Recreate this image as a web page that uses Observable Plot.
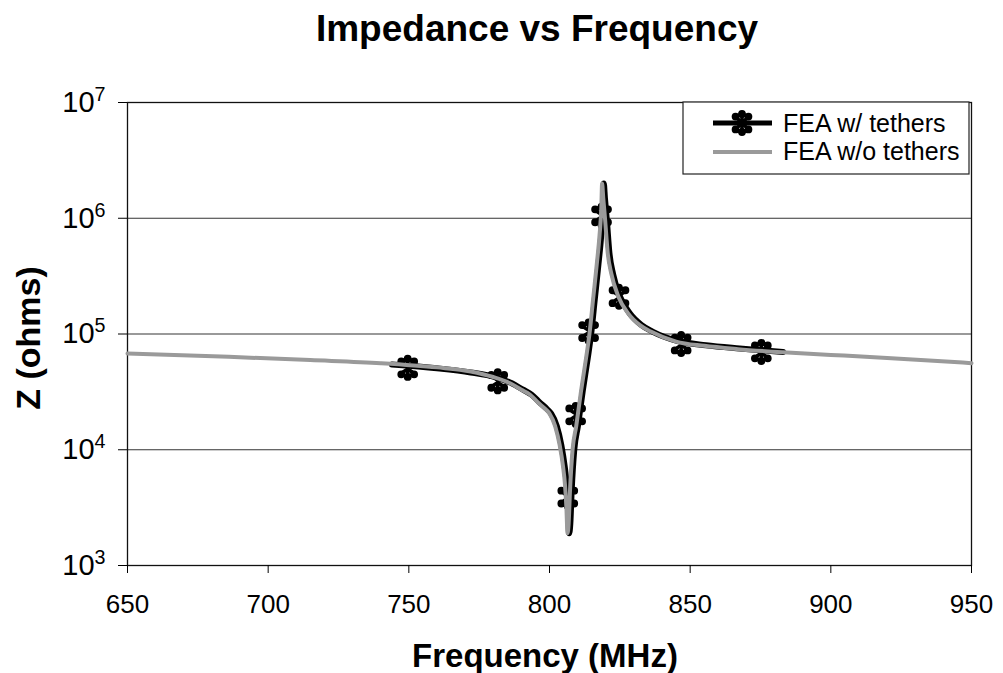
<!DOCTYPE html>
<html><head><meta charset="utf-8">
<script src="https://cdn.jsdelivr.net/npm/d3@7"></script>
<script src="https://cdn.jsdelivr.net/npm/@observablehq/plot@0.6"></script>
<style>
body{margin:0;background:#fff;}
svg{font-family:"Liberation Sans",Arial,Helvetica,sans-serif;}
</style>
</head><body><div id="chart"></div>
<script>
// ---- data ----
const seriesNames = ["FEA w/ tethers", "FEA w/o tethers"];
const xTicks = [650, 700, 750, 800, 850, 900, 950];
const yTicks = [1e3, 1e4, 1e5, 1e6, 1e7];

// FEA w/o tethers (grey line)
const freqWithout = [650, 686, 715, 740, 760, 772, 780, 786, 790, 793,
  796, 798.5, 800, 802, 803.6, 804.8, 805.5, 806, 806.4, 806.8,
  807.3, 808.2, 809.5, 811.2, 813, 814.2, 815.5, 816.8, 817.8, 818.4,
  818.7, 819.1, 819.8, 820.7, 822, 824.5, 828, 832, 836, 845,
  855, 867, 883, 900, 920, 950];
const zWithout = [6.8e4, 6.35e4, 5.95e4, 5.6e4, 5.15e4, 4.75e4, 4.25e4, 3.75e4, 3.3e4, 3.0e4,
  2.55e4, 2.25e4, 2.05e4, 1.6e4, 1.1e4, 7.2e3, 5.0e3, 3.2e3, 1.9e3, 2.3e3,
  4.5e3, 1.0e4, 1.6e4, 3.2e4, 6.2e4, 1.0e5, 2.0e5, 4.0e5, 7.2e5, 1.2e6,
  2.0e6, 1.5e6, 9.5e5, 5.0e5, 3.3e5, 2.1e5, 1.5e5, 1.2e5, 1.05e5, 8.6e4,
  7.9e4, 7.4e4, 6.95e4, 6.6e4, 6.2e4, 5.6e4];

// FEA w/ tethers (black line)
const freqWith = [744, 760, 772, 780.6, 786.6, 790.6, 793.6, 796.6, 799.1, 800.6,
  802.6, 804.2, 805.4, 806.1, 806.6, 807.0, 807.4, 807.9, 808.8, 810.1,
  811.8, 813.6, 814.8, 816.1, 817.4, 818.4, 819.0, 819.3, 819.7, 820.4,
  821.3, 822.6, 825.1, 828.6, 832.6, 836.6, 845.6, 855.6, 867.6, 883];
const zWith = [5.45e4, 5.05e4, 4.65e4, 4.25e4, 3.75e4, 3.3e4, 3.0e4, 2.55e4, 2.25e4, 2.05e4,
  1.6e4, 1.1e4, 7.2e3, 5.0e3, 3.2e3, 1.9e3, 2.3e3, 4.5e3, 1.0e4, 1.6e4,
  3.2e4, 6.2e4, 1.0e5, 2.0e5, 4.0e5, 7.2e5, 1.2e6, 2.0e6, 1.5e6, 9.5e5,
  5.0e5, 3.3e5, 2.1e5, 1.5e5, 1.2e5, 1.05e5, 8.7e4, 8.0e4, 7.5e4, 7.0e4];

// star markers on the "w/ tethers" series
const markerFreq = [749.6, 781.6, 806.5, 809.3, 813.9, 818.5, 824.7, 846.8, 875.3];
const markerZ = [5.1e4, 3.9e4, 3.9e3, 2.0e4, 1.05e5, 1.05e6, 2.1e5, 8.2e4, 7.0e4];

// ---- build tables ----
const without = freqWithout.map((f, i) => ({f, z: zWithout[i]}));
const withT = freqWith.map((f, i) => ({f, z: zWith[i]}));
const markers = markerFreq.map((f, i) => ({f, z: markerZ[i]}));

// Excel-like star marker with blobby arm ends (all sub-paths wound the same way)
const star = {
  draw(ctx, size) {
    const R = Math.sqrt(size / Math.PI);
    const b = R * 0.3, d = R - b, w0 = 0.8, w1 = b * 0.7;
    for (const deg of [90, 270, 45, 135, 225, 315]) {
      const a = deg * Math.PI / 180, c = Math.cos(a), s = Math.sin(a);
      const cx = d * c, cy = d * s;
      ctx.moveTo(s * w0, -c * w0);
      ctx.lineTo(cx + s * w1, cy - c * w1);
      ctx.lineTo(cx - s * w1, cy + c * w1);
      ctx.lineTo(-s * w0, c * w0);
      ctx.closePath();
      ctx.moveTo(cx + b, cy);
      ctx.arc(cx, cy, b, 0, 2 * Math.PI);
      ctx.closePath();
    }
  }
};

const W = 1003, H = 673;
const chart = Plot.plot({
  width: W, height: H,
  marginLeft: 127, marginRight: 32, marginTop: 102, marginBottom: 108,
  x: {domain: [650, 950]},
  y: {type: "log", domain: [1e3, 1e7]},
  style: {fontFamily: '"Liberation Sans", Arial, sans-serif', color: "#000", background: "#fff"},
  marks: [
    Plot.gridY(yTicks, {stroke: "#000", strokeOpacity: 0.8, strokeWidth: 1}),
    Plot.frame({stroke: "#111", strokeWidth: 1.3}),
    Plot.axisX(xTicks, {tickSize: 8, tickPadding: 21, fontSize: 26, label: null}),
    Plot.axisY(yTicks, {tickSize: 9, tickPadding: 13, fontSize: 29, label: null,
      tickFormat: d => String(Math.round(Math.log10(d)))}),
    Plot.line(withT, {x: "f", y: "z", stroke: "#000", strokeWidth: 6, curve: "monotone-x", strokeLinejoin: "round"}),
    Plot.dot(markers, {x: "f", y: "z", symbol: star, r: 13, fill: "#000", stroke: "none"}),
    Plot.line(without, {x: "f", y: "z", stroke: "#9a9a9a", strokeWidth: 4, curve: "monotone-x", strokeLinejoin: "round"})
  ]
});
document.getElementById("chart").appendChild(chart);

const svg = d3.select(chart);
// superscript exponents on y tick labels
svg.selectAll('g[aria-label="y-axis tick label"] text').each(function() {
  const e = this.textContent;
  const t = d3.select(this);
  t.text("10");
  t.append("tspan").attr("dy", "-0.55em").attr("font-size", "0.68em").text(e);
});

// title and axis titles
svg.append("text").attr("x", 537).attr("y", 41).attr("text-anchor", "middle")
  .attr("font-size", 37).attr("font-weight", "bold").attr("fill", "#000")
  .text("Impedance vs Frequency");
svg.append("text").attr("x", 545).attr("y", 667).attr("text-anchor", "middle")
  .attr("font-size", 33).attr("font-weight", "bold").attr("fill", "#000")
  .text("Frequency (MHz)");
svg.append("text").attr("transform", "translate(40,338) rotate(-90)").attr("text-anchor", "middle")
  .attr("font-size", 34).attr("font-weight", "bold").attr("fill", "#000")
  .text("Z (ohms)");

// legend
const lg = svg.append("g");
lg.append("rect").attr("x", 683).attr("y", 102).attr("width", 286).attr("height", 72)
  .attr("fill", "#fff").attr("stroke", "#222").attr("stroke-width", 1.2);
lg.append("line").attr("x1", 713).attr("x2", 772).attr("y1", 123).attr("y2", 123)
  .attr("stroke", "#000").attr("stroke-width", 5);
lg.append("path").attr("transform", "translate(742,123)")
  .attr("d", d3.symbol(star, 13 * 13 * Math.PI)()).attr("fill", "#000");
lg.append("line").attr("x1", 713).attr("x2", 772).attr("y1", 152).attr("y2", 152)
  .attr("stroke", "#9a9a9a").attr("stroke-width", 4.2);
lg.append("text").attr("x", 783).attr("y", 131.5).attr("text-anchor", "start")
  .attr("font-size", 25).attr("fill", "#000").text(seriesNames[0]);
lg.append("text").attr("x", 783).attr("y", 160).attr("text-anchor", "start")
  .attr("font-size", 25).attr("fill", "#000").text(seriesNames[1]);
</script>
</body></html>
